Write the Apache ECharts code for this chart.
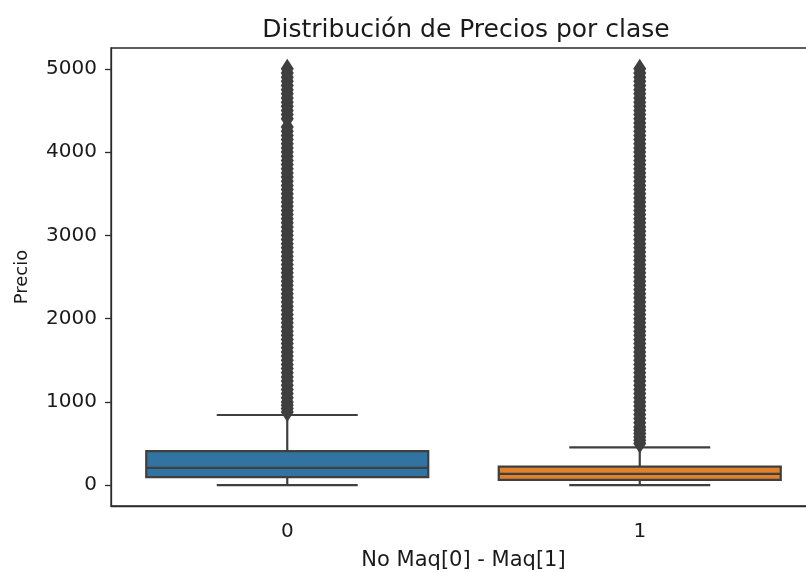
<!DOCTYPE html>
<html><head><meta charset="utf-8">
<script src="https://cdn.jsdelivr.net/npm/echarts@6/dist/echarts.min.js"></script>
<style>html,body{margin:0;padding:0;background:#fff}#c{width:806px;height:572px}</style>
</head><body><div id="c"></div>
<script>
const categories = ['0', '1'];
const whiskerLow = [0, 0];
const q1 = [96, 64];
const median = [207, 135];
const q3 = [408, 224];
const whiskerHigh = [843, 455];
const yTicks = [0, 1000, 2000, 3000, 4000, 5000];
const outliers0 = [880, 920, 960, 1000, 1050, 1100, 1150, 1200, 1250, 1300, 1350, 1400, 1450, 1500, 1550, 1600, 1650, 1700, 1750, 1800, 1850, 1900, 1950, 2000, 2050, 2100, 2150, 2200, 2250, 2300, 2350, 2400, 2450, 2500, 2550, 2600, 2650, 2700, 2750, 2800, 2850, 2900, 2950, 3000, 3050, 3100, 3150, 3200, 3250, 3300, 3350, 3400, 3450, 3500, 3550, 3600, 3650, 3700, 3750, 3800, 3850, 3900, 3950, 4000, 4050, 4100, 4150, 4200, 4250, 4300, 4400, 4450, 4500, 4550, 4600, 4650, 4700, 4750, 4800, 4850, 4900, 4950, 5000];
const outliers1 = [500, 540, 580, 620, 660, 700, 750, 800, 850, 900, 950, 1000, 1050, 1100, 1150, 1200, 1250, 1300, 1350, 1400, 1450, 1500, 1550, 1600, 1650, 1700, 1750, 1800, 1850, 1900, 1950, 2000, 2050, 2100, 2150, 2200, 2250, 2300, 2350, 2400, 2450, 2500, 2550, 2600, 2650, 2700, 2750, 2800, 2850, 2900, 2950, 3000, 3050, 3100, 3150, 3200, 3250, 3300, 3350, 3400, 3450, 3500, 3550, 3600, 3650, 3700, 3750, 3800, 3850, 3900, 3950, 4000, 4050, 4100, 4150, 4200, 4250, 4300, 4350, 4400, 4450, 4500, 4550, 4600, 4650, 4700, 4750, 4800, 4850, 4900, 4950, 5000];
const boxColors = ['#3274a1', '#e1812c'];
const edge = '#3f3f3f';
const FONT = 'DejaVu Sans';

const boxData = categories.map((c, i) => [i, whiskerLow[i], q1[i], median[i], q3[i], whiskerHigh[i]]);

const chart = echarts.init(document.getElementById('c'), null, {renderer: 'canvas'});
chart.setOption({
  animation: false,
  backgroundColor: '#fff',
  title: {
    text: 'Distribución de Precios por clase',
    left: 461, top: 13, textAlign: 'center',
    textStyle: {fontFamily: FONT, fontSize: 25, fontWeight: 'normal', color: '#1a1a1a'}
  },
  grid: {left: 111, top: 48, width: 705, height: 458, show: true, borderColor: '#2a2a2a', borderWidth: 1.3, containLabel: false, outerBoundsMode: 'none'},
  xAxis: {
    type: 'category', data: categories, boundaryGap: true,
    name: 'No Maq[0] - Maq[1]', nameLocation: 'middle', nameGap: 44,
    nameTextStyle: {fontFamily: FONT, fontSize: 21, color: '#1a1a1a'},
    axisLine: {onZero: false, lineStyle: {color: '#2a2a2a', width: 1.3}},
    axisTick: {alignWithLabel: true, length: 6, lineStyle: {color: '#2a2a2a', width: 1.3}},
    axisLabel: {fontFamily: FONT, fontSize: 20, color: '#1a1a1a', margin: 16},
    splitLine: {show: false}
  },
  yAxis: {
    type: 'value', min: -250, max: 5250,
    name: 'Precio', nameLocation: 'middle', nameGap: 80,
    nameTextStyle: {fontFamily: FONT, fontSize: 18, color: '#1a1a1a'},
    axisLine: {show: true, onZero: false, lineStyle: {color: '#2a2a2a', width: 1.3}},
    axisTick: {show: true, length: 6, customValues: yTicks, lineStyle: {color: '#2a2a2a', width: 1.3}},
    axisLabel: {fontFamily: FONT, fontSize: 20, color: '#1a1a1a', margin: 14, customValues: yTicks, formatter: v => String(v)},
    splitLine: {show: false}
  },
  series: [
    {
      type: 'custom',
      data: boxData,
      encode: {x: 0, y: [1, 2, 3, 4, 5]},
      renderItem: function (params, api) {
        const i = api.value(0);
        const band = api.size([1, 0])[0];
        const x = api.coord([i, 0])[0];
        const y = v => api.coord([i, v])[1];
        const yLo = y(api.value(1)), yQ1 = y(api.value(2)), yMed = y(api.value(3)), yQ3 = y(api.value(4)), yHi = y(api.value(5));
        const hb = band * 0.4, hc = band * 0.2;
        const ls = {stroke: edge, lineWidth: 2.2};
        return {type: 'group', children: [
          {type: 'line', shape: {x1: x, y1: yQ3, x2: x, y2: yHi}, style: ls},
          {type: 'line', shape: {x1: x, y1: yQ1, x2: x, y2: yLo}, style: ls},
          {type: 'line', shape: {x1: x - hc, y1: yHi, x2: x + hc, y2: yHi}, style: ls},
          {type: 'line', shape: {x1: x - hc, y1: yLo, x2: x + hc, y2: yLo}, style: ls},
          {type: 'rect', shape: {x: x - hb, y: yQ3, width: 2 * hb, height: yQ1 - yQ3}, style: {fill: boxColors[i], stroke: edge, lineWidth: 2.2}},
          {type: 'line', shape: {x1: x - hb, y1: yMed, x2: x + hb, y2: yMed}, style: ls}
        ]};
      }
    },
    {
      type: 'scatter', symbol: 'diamond', symbolSize: [13, 20],
      itemStyle: {color: edge, opacity: 1},
      data: outliers0.map(v => [0, v])
    },
    {
      type: 'scatter', symbol: 'diamond', symbolSize: [13, 20],
      itemStyle: {color: edge, opacity: 1},
      data: outliers1.map(v => [1, v])
    }
  ]
});
</script>
</body></html>
